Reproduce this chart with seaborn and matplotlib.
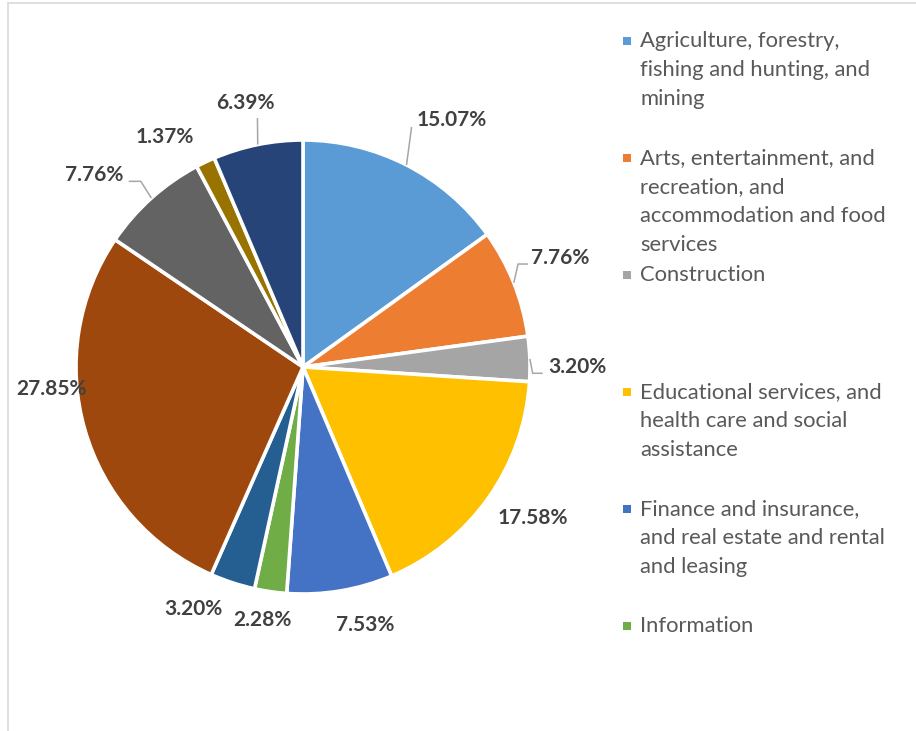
import numpy as np
import matplotlib
matplotlib.use("Agg")
import matplotlib.pyplot as plt
import seaborn as sns

# ---------------- data ----------------
categories = [
    "Agriculture, forestry,\nfishing and hunting, and\nmining",
    "Arts, entertainment, and\nrecreation, and\naccommodation and food\nservices",
    "Construction",
    "Educational services, and\nhealth care and social\nassistance",
    "Finance and insurance,\nand real estate and rental\nand leasing",
    "Information",
    "Manufacturing",
    "Professional, scientific, and management services",
    "Public administration",
    "Retail trade",
    "Transportation and warehousing, and utilities",
]
shares = [15.07, 7.76, 3.20, 17.58, 7.53, 2.28, 3.20, 27.85, 7.76, 1.37, 6.39]
label_texts = ["15.07%", "7.76%", "3.20%", "17.58%", "7.53%", "2.28%",
               "3.20%", "27.85%", "7.76%", "1.37%", "6.39%"]
colors = ["#5B9BD5", "#ED7D31", "#A5A5A5", "#FFC000", "#4472C4", "#70AD47",
          "#255E91", "#9E480E", "#636363", "#997300", "#264478"]
legend_count = 6  # legend in the reference is cut off after 6 entries

# label placement (layout): angle nudge (deg, clockwise) and radius factor
label_dang = [3.9, -1.2, 2.1, -2.1, -4.1, 0.8, 6.4, 11.0, -5.6, -5.5, -0.8]
label_rad = [1.27, 1.23, 1.21, 1.21, 1.17, 1.13, 1.17, 1.11, 1.25, 1.18, 1.19]
# leader lines: offsets in px from label centre (x right, y down)
leaders = {
    0: [(-40, 7)],
    1: [(-42, 6), (-32, 6)],
    2: [(-45, 6), (-35, 6)],
    8: [(47, 6), (35, 6)],
    10: [(12, 15)],
}

# ---------------- figure ----------------
sns.set_theme(style="white")
plt.rcParams["font.family"] = ["Lato", "DejaVu Sans"]

W, H = 916, 731
fig = plt.figure(figsize=(W / 100, H / 100), dpi=100)
fig.patch.set_facecolor("white")

cx, cy, R = 303, 367, 227
ax = fig.add_axes([(cx - R) / W, 1 - (cy + R) / H, 2 * R / W, 2 * R / H])
pal = sns.color_palette(colors)
wedges, _ = ax.pie(shares, colors=pal, startangle=90, counterclock=False,
                   radius=1.0,
                   wedgeprops=dict(edgecolor="white", linewidth=2.6))
ax.set_xlim(-1, 1)
ax.set_ylim(-1, 1)
ax.set_aspect("equal")
ax.axis("off")

total = sum(shares)
cum = np.cumsum([0] + shares[:-1])
px = 1.0 / R  # one pixel in data units
for i, (v, c0) in enumerate(zip(shares, cum)):
    mid = (c0 + v / 2) / total * 360.0
    ang = np.deg2rad(mid + label_dang[i])
    lx, ly = label_rad[i] * np.sin(ang), label_rad[i] * np.cos(ang)
    ax.text(lx, ly, label_texts[i], ha="center", va="center",
            fontsize=15, fontweight="bold", color="#404040", clip_on=False)
    if i in leaders:
        m = np.deg2rad(mid)
        xs, ys = [np.sin(m)], [np.cos(m)]
        for dx, dy in leaders[i]:
            xs.append(lx + dx * px)
            ys.append(ly - dy * px)
        ax.plot(xs, ys, color="#A6A6A6", lw=1.1, clip_on=False,
                solid_capstyle="butt")

# ---------------- legend (truncated, as in reference) ----------------
entry_top = 41
entry_step = 117
line_step = 29
for k in range(legend_count):
    y0 = entry_top + k * entry_step
    fig.patches.append(matplotlib.patches.Rectangle(
        ((623) / W, 1 - (y0 + 4) / H), 8 / W, 8 / H,
        transform=fig.transFigure, facecolor=colors[k], edgecolor="none"))
    for j, line in enumerate(categories[k].split("\n")):
        fig.text(640 / W, 1 - (y0 + j * line_step) / H, line,
                 ha="left", va="center", fontsize=15.8, color="#595959")

# chart frame border (partially visible)
fig.add_artist(matplotlib.lines.Line2D([7.5 / W, 7.5 / W], [0, 1 - 2.5 / H],
                                       transform=fig.transFigure, color="#D9D9D9", lw=1.2))
fig.add_artist(matplotlib.lines.Line2D([7.5 / W, 1], [1 - 2.5 / H, 1 - 2.5 / H],
                                       transform=fig.transFigure, color="#D9D9D9", lw=1.2))

fig.savefig("out.png", dpi=100, facecolor="white")
